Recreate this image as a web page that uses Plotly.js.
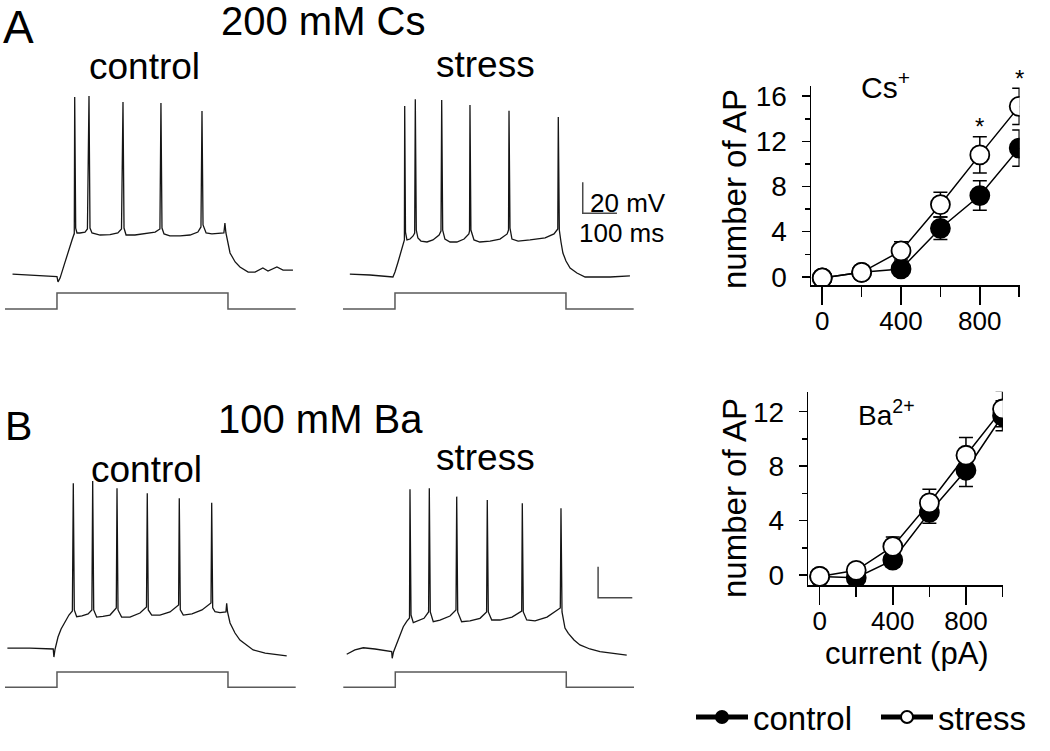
<!DOCTYPE html>
<html>
<head>
<meta charset="utf-8">
<script src="https://cdn.plot.ly/plotly-3.0.1.min.js"></script>
<style>html,body{margin:0;padding:0;background:#fff;}#fig{width:1050px;height:751px;}</style>
</head>
<body>
<div id="fig"></div>
<script>
// ---------------- DATA ----------------
// Current-step protocol (shared by all recordings): time in ms, level on/off
var stimTime  = [0, 152, 152, 652, 652, 850];
var stimLevel = [0, 0, 1, 1, 0, 0];

// A: 200 mM Cs, control recording (time ms, membrane potential mV)
var csCtrlT = [22, 73, 117, 152, 155, 161, 173, 184, 196, 202, 202.6, 203.8, 206.7, 210.5, 219, 234, 241, 245.6, 248.5, 254.4, 278, 307, 330, 340.6, 345, 348, 354, 380, 409, 439, 453, 456, 459, 465, 482, 512, 541, 564, 573, 576, 579, 588, 605, 629, 640, 643, 646, 658, 673, 687, 711, 731, 754, 769, 795, 813, 842];
var csCtrlV = [-69.4, -70, -70.6, -71, -74.5, -72, -63.5, -55.2, -47.4, -43.5, -43.5, 44.8, -39.7, -42.9, -42.9, -42.3, -40.3, 45.5, -39.7, -42.9, -44.2, -43.9, -42.9, -40.3, 41.6, -39.7, -44.2, -44.2, -43.5, -42.3, -40.3, 41.0, -39.7, -43.5, -44.8, -44.8, -44.2, -42.3, -39.0, 35.8, -37.7, -42.9, -43.5, -42.9, -42.9, -36.5, -42.9, -55.8, -61.6, -64.8, -68.1, -68.1, -65.5, -67.4, -64.8, -66.8, -66.8];

// A: 200 mM Cs, stress recording
var csStrT = [20, 79, 146, 152, 161, 170, 178, 179.5, 180.4, 182.7, 187, 196, 205, 209.6, 211.4, 214.3, 219, 228, 245.6, 263, 281, 286.5, 288.6, 291.5, 298, 313, 333, 354, 368, 370, 371.3, 374, 383, 400, 430, 459, 480, 484, 485.4, 488.3, 494, 512, 547, 591, 617, 628, 629.5, 632.5, 637.4, 643, 652, 664, 684, 708, 737, 781, 839];
var csStrV = [-69.4, -70, -71.3, -68.1, -61.6, -55.2, -49.4, -47.4, 39.0, -42.3, -47.4, -46.8, -44.8, -42.9, 43.4, -41.0, -46.1, -48.1, -48.7, -47.4, -44.2, -41.6, 42.9, -41.0, -46.8, -48.7, -48.7, -46.8, -43.5, -41.6, 39.7, -41.0, -47.4, -48.7, -48.1, -46.8, -43.5, -41.0, 36.0, -39.7, -46.8, -48.1, -47.4, -46.1, -43.5, -40.3, 31.9, -41.0, -48.7, -55.8, -61.0, -65.5, -68.7, -71.3, -71.3, -71.3, -70.6];

// B: 100 mM Ba, control recording
var baCtrlT = [7, 73, 141, 143, 146, 155, 164, 175, 187, 197, 199.7, 202.6, 209.6, 225, 243, 254, 256.4, 259.4, 268, 286.5, 307, 325.4, 327.5, 330.4, 341, 365.5, 394.7, 413.7, 416, 419, 429, 453, 482.5, 507.6, 509.6, 512.6, 521.3, 546.8, 576, 602.3, 604.4, 607.3, 614, 628.7, 646, 648.2, 650.7, 658, 672.5, 687, 708, 725.6, 760.8, 823.7];
var baCtrlV = [-69.5, -69.4, -70, -75.2, -70.6, -62.3, -57.1, -52.6, -48.1, -45.5, 36.9, -44.8, -49.2, -48.7, -47.4, -44.8, 38.4, -44.8, -49.4, -49.0, -48.1, -43.5, 33.7, -44.8, -49.4, -49.4, -46.8, -42.9, 30.5, -44.8, -48.1, -48.1, -46.1, -41.6, 27.2, -44.8, -48.1, -47.4, -44.8, -40.3, 24.4, -43.5, -45.9, -46.5, -46.1, -40.5, -46.1, -53.2, -59.7, -64.2, -67.4, -70.6, -72.6, -74.5];

// B: 100 mM Ba, stress recording
var baStrT = [10, 34, 58.5, 92.7, 141.5, 143, 146.8, 156, 165.8, 175.4, 186, 193.6, 195, 198, 204.7, 218.4, 236, 249.4, 251.5, 254.4, 263, 282.7, 312, 329.5, 331.6, 334.5, 346, 370.5, 399.7, 419, 421, 424, 434, 458, 493.3, 521.6, 523.4, 526.3, 536.3, 560.5, 595.6, 634.5, 636.5, 639.5, 643.3, 648.2, 658, 674.6, 692, 721, 750.6, 828.7];
var baStrV = [-73.4, -70.6, -69.2, -70, -71.7, -76.0, -71.9, -66.3, -61.0, -55.6, -52.0, -50.0, 33.0, -48.1, -53.0, -51.9, -50.2, -46.1, 33.7, -46.1, -52.4, -51.3, -48.7, -44.8, 28.3, -46.1, -52.4, -51.9, -50.2, -46.1, 26.1, -46.1, -51.3, -51.3, -49.4, -45.5, 24.0, -46.1, -51.3, -51.9, -49.4, -43.5, 20.8, -46.1, -51.3, -56.5, -59.9, -64.2, -67.4, -70.0, -71.7, -73.9];

// Scale bar lengths
var scaleMs = 100;   // ms
var scaleMv = 20;    // mV

// Input-output curves: injected current (pA) vs number of APs (mean, SEM)
var currents = [0, 200, 400, 600, 800, 1000];
var csControl    = [-0.1, 0.4, 0.7, 4.3, 7.2, 11.4];
var csControlErr = [0, 0.1, 0.6, 1.0, 1.3, 1.6];
var csStress     = [-0.1, 0.4, 2.3, 6.4, 10.8, 15.1];
var csStressErr  = [0, 0.2, 0.8, 1.1, 1.6, 1.6];
var baControl    = [-0.1, -0.2, 1.1, 4.6, 7.7, 11.7];
var baControlErr = [0, 0.2, 0.5, 0.8, 1.2, 1.1];
var baStress     = [-0.1, 0.35, 2.1, 5.3, 8.8, 12.2];
var baStressErr  = [0, 0.45, 0.7, 1.0, 1.3, 1.3];
var csSignificant = [800, 1000];

// ---------------- LAYOUT HELPERS ----------------
var W = 1050, H = 751;
function px(x) { return x / W; }
function py(y) { return (H - y) / H; }
var PX_PER_MS = 0.342, PX_PER_MV = 1.55;
function tRange(d0, d1, x0) { return [(d0 - x0) / PX_PER_MS, (d1 - x0) / PX_PER_MS]; }
function vRange(top, bot, yRest) { return [-70 + (yRest - bot) / PX_PER_MV, -70 + (yRest - top) / PX_PER_MV]; }
function iRange(top, bot, yBase, stepPx) { return [(yBase - bot) / stepPx, (yBase - top) / stepPx]; }
function hid(o) { return Object.assign({visible: false, fixedrange: true, showgrid: false, zeroline: false}, o); }

var FONT = 'Liberation Sans, Arial, Helvetica, sans-serif';
var vLine = {color: '#151515', width: 1.3};
var iLine = {color: '#5a5a5a', width: 1.5};
var sbLine = {color: '#4a4a4a', width: 1.5};

var traces = [];
function vTrace(t, v, xa, ya) { traces.push({x: t, y: v, xaxis: xa, yaxis: ya, mode: 'lines', line: vLine, showlegend: false, hoverinfo: 'skip'}); }
function iTrace(xa, ya) { traces.push({x: stimTime, y: stimLevel, xaxis: xa, yaxis: ya, mode: 'lines', line: iLine, showlegend: false, hoverinfo: 'skip'}); }
function scaleBar(xa, ya, t0, v0) {
  traces.push({x: [t0, t0, t0 + scaleMs], y: [v0 + scaleMv, v0, v0], xaxis: xa, yaxis: ya, mode: 'lines', line: sbLine, showlegend: false, hoverinfo: 'skip'});
}

vTrace(csCtrlT, csCtrlV, 'x', 'y');   iTrace('x', 'y2');
vTrace(csStrT, csStrV, 'x2', 'y3');   iTrace('x2', 'y4');
vTrace(baCtrlT, baCtrlV, 'x3', 'y5'); iTrace('x3', 'y6');
vTrace(baStrT, baStrV, 'x4', 'y7');   iTrace('x4', 'y8');
scaleBar('x2', 'y3', 701, -30.2);
scaleBar('x4', 'y7', 745, -36.9);

function ioTrace(y, err, xa, ya, filled, name, showleg, lw) {
  var t = {
    x: currents, y: y, xaxis: xa, yaxis: ya, name: name, showlegend: showleg,
    mode: 'lines+markers', line: {color: '#000', width: 1.5},
    marker: {symbol: 'circle', size: 19, color: filled ? '#000' : '#fff', line: {color: '#000', width: 1.8}},
    error_y: {type: 'data', array: err, visible: true, color: '#000', thickness: 1.5, width: 7},
    hoverinfo: 'x+y'
  };
  if (lw) t.legendwidth = lw;
  traces.push(t);
}
ioTrace(csControl, csControlErr, 'x5', 'y9', true, 'control', true, 118);
ioTrace(csStress, csStressErr, 'x5', 'y9', false, 'stress', true);
ioTrace(baControl, baControlErr, 'x6', 'y10', true, 'control', false);
ioTrace(baStress, baStressErr, 'x6', 'y10', false, 'stress', false);

function ioX(d0, d1, range) {
  return {domain: [px(d0), px(d1)], range: range, showline: true, linecolor: '#000', linewidth: 1.5,
    ticks: 'outside', ticklen: 18, tickwidth: 1.5, tickcolor: '#000', tickmode: 'linear', tick0: 0, dtick: 400,
    minor: {ticks: 'outside', ticklen: 10, tickwidth: 1.5, tickcolor: '#000', dtick: 200, tick0: 0, showgrid: false},
    showgrid: false, zeroline: false, fixedrange: true, ticklabelstandoff: -6,
    tickfont: {family: FONT, size: 26, color: '#000'}};
}
function ioY(top, bot, range, anchor) {
  return {domain: [py(bot), py(top)], range: range, anchor: anchor, showline: true, linecolor: '#000', linewidth: 1.5,
    ticks: 'outside', ticklen: 8, tickwidth: 1.5, tickcolor: '#000', tickmode: 'linear', tick0: 0, dtick: 4,
    minor: {ticks: 'outside', ticklen: 5, tickwidth: 1.5, tickcolor: '#000', dtick: 2, tick0: 0, showgrid: false},
    showgrid: false, zeroline: false, fixedrange: true, ticklabelstandoff: 9,
    tickfont: {family: FONT, size: 28, color: '#000'}};
}

function txt(text, x, y, size, extra) {
  return Object.assign({text: text, xref: 'paper', yref: 'paper', x: px(x), y: py(y), xanchor: 'center', yanchor: 'middle',
    showarrow: false, font: {family: FONT, size: size, color: '#000'}}, extra || {});
}

var annotations = [
  txt('A', 18, 27, 46),
  txt('200 mM Cs', 323, 21, 40),
  txt('control', 144, 67, 37),
  txt('stress', 485, 64, 37),
  txt('20 mV', 628, 203, 26),
  txt('100 ms', 621, 233, 26),
  txt('B', 18, 426, 41),
  txt('100 mM Ba', 320, 419, 40),
  txt('control', 146, 469, 37),
  txt('stress', 485, 457, 37),
  txt('Cs<sup>+</sup>', 885, 85, 30),
  txt('Ba<sup>2+</sup>', 886, 413, 28),
  txt('number of AP', 734, 189, 33, {textangle: -90}),
  txt('number of AP', 734, 498, 33, {textangle: -90}),
  txt('current (pA)', 907, 653, 31)
];

// significance stars above the stress error bars (Cs panel)
var csYRange = [-0.74, 16.9];
csSignificant.forEach(function (c) {
  var i = currents.indexOf(c);
  var v = csStress[i] + csStressErr[i] + 0.9;
  annotations.push({text: '*', xref: 'x5', yref: 'y9 domain', x: c,
    y: (v - csYRange[0]) / (csYRange[1] - csYRange[0]),
    xanchor: 'center', yanchor: 'middle', showarrow: false, font: {family: FONT, size: 24, color: '#000'}});
});

var layout = {
  width: W, height: H, margin: {l: 0, r: 0, t: 0, b: 0},
  paper_bgcolor: '#fff', plot_bgcolor: 'rgba(0,0,0,0)',
  font: {family: FONT, color: '#000'},
  xaxis:  hid({domain: [px(0), px(310)], range: tRange(0, 310, 5), anchor: 'y'}),
  yaxis:  hid({domain: [py(285), py(90)], range: vRange(90, 285, 275), anchor: 'x'}),
  yaxis2: hid({domain: [py(320), py(285)], range: iRange(285, 320, 309, 16), anchor: 'x'}),
  xaxis2: hid({domain: [px(333), px(643)], range: tRange(333, 643, 343), anchor: 'y3'}),
  yaxis3: hid({domain: [py(285), py(90)], range: vRange(90, 285, 275), anchor: 'x2'}),
  yaxis4: hid({domain: [py(320), py(285)], range: iRange(285, 320, 309, 16), anchor: 'x2'}),
  xaxis3: hid({domain: [px(0), px(310)], range: tRange(0, 310, 5), anchor: 'y5'}),
  yaxis5: hid({domain: [py(665), py(470)], range: vRange(470, 665, 649), anchor: 'x3'}),
  yaxis6: hid({domain: [py(700), py(665)], range: iRange(665, 700, 687.3, 15.3), anchor: 'x3'}),
  xaxis4: hid({domain: [px(333), px(643)], range: tRange(333, 643, 343.3), anchor: 'y7'}),
  yaxis7: hid({domain: [py(665), py(470)], range: vRange(470, 665, 649), anchor: 'x4'}),
  yaxis8: hid({domain: [py(700), py(665)], range: iRange(665, 700, 687.3, 15.3), anchor: 'x4'}),
  xaxis5: Object.assign(ioX(811, 1019.6, [-57, 1002]), {anchor: 'y9'}),
  yaxis9: ioY(86, 285.2, csYRange, 'x5'),
  xaxis6: Object.assign(ioX(808.3, 1002.9, [-62, 1002]), {anchor: 'y10'}),
  yaxis10: ioY(391.7, 585, [-0.73, 13.47], 'x6'),
  showlegend: true,
  legend: {orientation: 'h', x: px(691), y: py(717), xanchor: 'left', yanchor: 'middle',
    font: {family: FONT, size: 33, color: '#000'}, itemsizing: 'constant', itemwidth: 52,
    bgcolor: 'rgba(0,0,0,0)', borderwidth: 0,
    tracegroupgap: 0, itemclick: false, itemdoubleclick: false},
  annotations: annotations
};

Plotly.newPlot('fig', traces, layout, {displayModeBar: false, staticPlot: true});
</script>
</body>
</html>
